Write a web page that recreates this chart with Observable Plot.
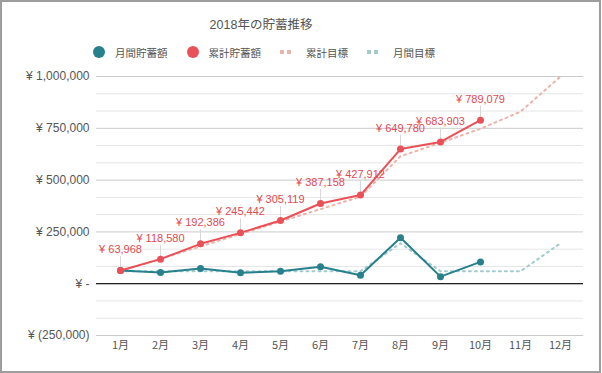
<!DOCTYPE html>
<html><head><meta charset="utf-8">
<script src="https://cdn.jsdelivr.net/npm/d3@7"></script>
<script src="https://cdn.jsdelivr.net/npm/@observablehq/plot@0.6"></script>
<style>
body{margin:0;background:#fff;font-family:"Liberation Sans","Noto Sans CJK JP",sans-serif;}
#wrap{position:relative;width:602px;height:373px;overflow:hidden;background:#fff;}
#frame{position:absolute;left:0;top:0;width:597px;height:369px;border:2px solid #9d9d9d;pointer-events:none;}
#title{position:absolute;top:17px;left:0;width:522px;text-align:center;font-size:12.5px;line-height:16px;color:#555;}
#legend{position:absolute;top:44px;left:93px;height:16px;display:flex;align-items:center;font-size:10.5px;color:#555;font-family:"Noto Sans CJK JP","Liberation Sans",sans-serif;}
.item{display:flex;align-items:center;margin-right:19px;}
.dot{width:12px;height:12px;border-radius:50%;margin-right:10px;}
.sq{display:flex;margin-right:12px;}
.sq span{width:4px;height:4px;margin-right:3px;}
#chart{position:absolute;left:0;top:62px;}
</style></head>
<body>
<div id="wrap">
  <div id="title"></div>
  <div id="legend"></div>
  <div id="chart"></div>
  <div id="frame"></div>
</div>
<script>
const titleText = "2018年の貯蓄推移";
const months = ["1月","2月","3月","4月","5月","6月","7月","8月","9月","10月","11月","12月"];
const monthlySaving = [63968, 54612, 73806, 53056, 59677, 82039, 40754, 221868, 34123, 105176];
const cumulativeSaving = [63968, 118580, 192386, 245442, 305119, 387158, 427912, 649780, 683903, 789079];
const cumulativeTarget = [60000, 120000, 180000, 240000, 300000, 360000, 420000, 615000, 680000, 748000, 830000, 1000000];
const monthlyTarget = [60000, 60000, 60000, 60000, 60000, 60000, 60000, 195000, 60000, 60000, 60000, 195000];
const yTicks = [-250000, 0, 250000, 500000, 750000, 1000000];
const seriesNames = ["月間貯蓄額", "累計貯蓄額", "累計目標", "月間目標"];
const seriesColors = ["#27808c", "#ea5058", "#ebb3aa", "#a3cbcf"];

document.getElementById("title").textContent = titleText;
const legend = document.getElementById("legend");
seriesNames.forEach((name, i) => {
  const it = document.createElement("div");
  it.className = "item";
  if (i < 2) {
    const d = document.createElement("div");
    d.className = "dot"; d.style.background = seriesColors[i];
    it.appendChild(d);
  } else {
    const s = document.createElement("div");
    s.className = "sq";
    for (let k = 0; k < 2; k++) { const sp = document.createElement("span"); sp.style.background = seriesColors[i]; s.appendChild(sp); }
    it.appendChild(s);
  }
  const t = document.createElement("span"); t.textContent = name; it.appendChild(t);
  legend.appendChild(it);
});

const fmt = d3.format(",");
const yen = v => v === 0 ? "¥ -" : v < 0 ? `¥ (${fmt(-v)})` : `¥ ${fmt(v)}`;

const actual = monthlySaving.map((v, i) => ({m: months[i], monthly: v, cum: cumulativeSaving[i]}));
const target = months.map((m, i) => ({m, monthly: monthlyTarget[i], cum: cumulativeTarget[i]}));
const minorTicks = [];
for (let i = 0; i < yTicks.length - 1; i++) {
  const a = yTicks[i], b = yTicks[i + 1];
  minorTicks.push(a + (b - a) / 3, a + 2 * (b - a) / 3);
}

const plot = Plot.plot({
  width: 602, height: 308,
  marginLeft: 96, marginRight: 19, marginTop: 14, marginBottom: 35,
  style: {fontFamily: '"Liberation Sans","Noto Sans CJK JP",sans-serif', background: "transparent"},
  x: {type: "point", domain: months, padding: 0.5},
  y: {domain: [-250000, 1000000]},
  marks: [
    Plot.gridY(minorTicks, {stroke: "#e6e6e6", strokeOpacity: 1}),
    Plot.gridY(yTicks, {stroke: "#cacaca", strokeOpacity: 1}),
    Plot.ruleY([0], {stroke: "#222", strokeWidth: 1.2}),
    Plot.axisY(yTicks, {tickFormat: yen, tickSize: 0, tickPadding: 7, fontSize: 12, fill: "#555", label: null}),
    Plot.axisX(months, {tickSize: 0, tickPadding: 6, fontSize: 11, fill: "#555", label: null, fontFamily: '"Noto Sans CJK JP","Liberation Sans",sans-serif'}),
    Plot.line(target, {x: "m", y: "cum", stroke: seriesColors[2], strokeWidth: 2, strokeDasharray: "2,4"}),
    Plot.line(target, {x: "m", y: "monthly", stroke: seriesColors[3], strokeWidth: 2, strokeDasharray: "2,4"}),
    Plot.ruleX(actual, {x: "m", y1: "cum", y2: "cum", insetBottom: 14, stroke: "#d8d8d8", strokeWidth: 1}),
    Plot.line(actual, {x: "m", y: "monthly", stroke: seriesColors[0], strokeWidth: 2}),
    Plot.dot(actual, {x: "m", y: "monthly", fill: seriesColors[0], r: 3.5}),
    Plot.line(actual, {x: "m", y: "cum", stroke: seriesColors[1], strokeWidth: 2}),
    Plot.dot(actual, {x: "m", y: "cum", fill: seriesColors[1], r: 3.5}),
    Plot.text(actual, {x: "m", y: "cum", text: d => yen(d.cum), dy: -21, fill: "#e24a52", fontSize: 11})
  ]
});
document.getElementById("chart").appendChild(plot);
</script>
</body></html>
